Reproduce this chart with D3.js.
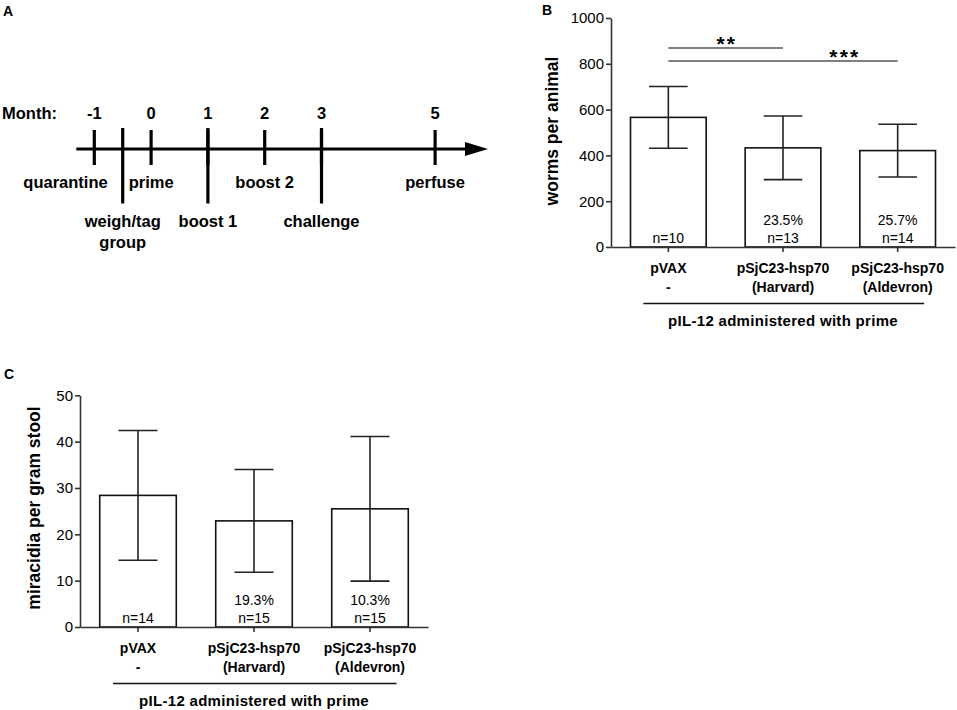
<!DOCTYPE html>
<html><head><meta charset="utf-8">
<script src="https://cdn.jsdelivr.net/npm/d3@7"></script>
<style>
body{margin:0;background:#fff}
svg{display:block}
text{font-family:"Liberation Sans",Arial,Helvetica,sans-serif;fill:#000}
</style>
</head><body>
<svg id="chart" width="957" height="710"></svg>
<script>
// ---------- Panel A: timeline ----------
const monthTicks = [-1, 0, 1, 2, 3, 5];
const eventLabels = [["quarantine"], ["weigh/tag", "group"], ["prime"], ["boost 1"], ["boost 2"], ["challenge"], ["perfuse"]];
const eventMonths = [-1, -0.5, 0, 1, 2, 3, 5];
const eventRows = [0, 1, 0, 1, 0, 1, 0];

// ---------- Panel B: worms per animal ----------
const groupLine1 = ["pVAX", "pSjC23-hsp70", "pSjC23-hsp70"];
const groupLine2 = ["-", "(Harvard)", "(Aldevron)"];
const wormMean = [566, 433, 421];
const wormSD = [135, 139, 115];
const wormN = ["n=10", "n=13", "n=14"];
const wormReduction = ["", "23.5%", "25.7%"];
const wormTicks = [0, 200, 400, 600, 800, 1000];
const sigFrom = [0, 0];
const sigTo = [1, 2];
const sigLabels = ["**", "***"];

// ---------- Panel C: miracidia per gram stool ----------
const miraMean = [28.4, 22.9, 25.5];
const miraSD = [14.0, 11.1, 15.6];
const miraN = ["n=14", "n=15", "n=15"];
const miraReduction = ["", "19.3%", "10.3%"];
const miraTicks = [0, 10, 20, 30, 40, 50];

const groupTitle = "pIL-12 administered with prime";

const svg = d3.select("#chart");

// ===== Panel A =====
(function () {
  const g = svg.append("g");
  g.append("text").attr("x", 3).attr("y", 16).attr("font-size", 14).attr("font-weight", "bold").text("A");
  const x = d3.scaleLinear().domain([-1, 5]).range([94.3, 435.1]);
  const axisY = 149;
  const lw = 3.2;
  g.append("line").attr("x1", x(-1) - 18).attr("x2", 468).attr("y1", axisY).attr("y2", axisY)
    .attr("stroke", "#000").attr("stroke-width", lw);
  g.append("path").attr("d", `M465,${axisY - 7}L488,${axisY}L465,${axisY + 7}Z`).attr("fill", "#000");
  g.selectAll("line.mt").data(monthTicks).join("line").attr("class", "mt")
    .attr("x1", d => x(d)).attr("x2", d => x(d)).attr("y1", 130).attr("y2", 165)
    .attr("stroke", "#000").attr("stroke-width", lw);
  const longIdx = eventMonths.map((m, i) => i).filter(i => eventRows[i] === 1);
  g.selectAll("line.et").data(longIdx).join("line").attr("class", "et")
    .attr("x1", i => x(eventMonths[i])).attr("x2", i => x(eventMonths[i])).attr("y1", 128).attr("y2", 203.5)
    .attr("stroke", "#000").attr("stroke-width", lw);
  const fs = 16.5;
  g.append("text").attr("x", 2).attr("y", 119).attr("font-size", fs).attr("font-weight", "bold").text("Month:");
  g.selectAll("text.mn").data(monthTicks).join("text").attr("class", "mn")
    .attr("x", d => x(d)).attr("y", 119).attr("text-anchor", "middle")
    .attr("font-size", fs).attr("font-weight", "bold").text(d => d);
  eventLabels.forEach((lines, i) => {
    const row = eventRows[i];
    let tx = x(eventMonths[i]);
    let anchor = "middle";
    if (i === 0) { tx = x(eventMonths[1]) - 15; anchor = "end"; }
    const t = g.append("text").attr("text-anchor", anchor).attr("font-size", fs).attr("font-weight", "bold");
    lines.forEach((s, k) => {
      t.append("tspan").attr("x", tx).attr("y", (row === 0 ? 188.3 : 226.7) + k * 21.3).text(s);
    });
  });
})();

// ===== bar panels =====
function barPanel(o) {
  const g = svg.append("g");
  g.append("text").attr("x", o.letterX).attr("y", o.letterY).attr("font-size", 14).attr("font-weight", "bold").text(o.letter);
  const x = d3.scaleBand().domain(d3.range(o.means.length)).range([o.left, o.right]).paddingInner(0.34).paddingOuter(0.17);
  const y = d3.scaleLinear().domain([0, o.ticks[o.ticks.length - 1]]).range([o.bottom, o.top]);
  const bw = x.bandwidth();
  const cx = i => x(i) + bw / 2;
  g.selectAll("rect").data(o.means).join("rect")
    .attr("x", (d, i) => x(i)).attr("width", bw)
    .attr("y", d => y(d)).attr("height", d => o.bottom - y(d))
    .attr("fill", "#fff").attr("stroke", "#111").attr("stroke-width", 1.6);
  const cap = bw * 0.51;
  o.means.forEach((m, i) => {
    const hi = y(m + o.sds[i]), lo = y(m - o.sds[i]);
    const c = cx(i);
    g.append("line").attr("x1", c).attr("x2", c).attr("y1", hi).attr("y2", lo).attr("stroke", "#222").attr("stroke-width", 1.6);
    g.append("line").attr("x1", c - cap / 2).attr("x2", c + cap / 2).attr("y1", hi).attr("y2", hi).attr("stroke", "#222").attr("stroke-width", 1.6);
    g.append("line").attr("x1", c - cap / 2).attr("x2", c + cap / 2).attr("y1", lo).attr("y2", lo).attr("stroke", "#222").attr("stroke-width", 1.6);
  });
  const ya = g.append("g").attr("transform", `translate(${o.left},0)`)
    .call(d3.axisLeft(y).tickValues(o.ticks).tickSize(5).tickSizeOuter(0).tickPadding(2).tickFormat(d3.format("d")));
  ya.selectAll("path,line").attr("stroke", "#333").attr("stroke-width", 1.6);
  ya.selectAll("text").attr("font-size", 15).attr("font-family", '"Liberation Sans",Arial,sans-serif').attr("fill", "#000");
  const xa = g.append("g").attr("transform", `translate(0,${o.bottom})`)
    .call(d3.axisBottom(x).tickSize(5).tickSizeOuter(0).tickFormat(""));
  xa.selectAll("path,line").attr("stroke", "#333").attr("stroke-width", 1.6);
  g.selectAll("text.n").data(o.n).join("text").attr("class", "n")
    .attr("x", (d, i) => cx(i)).attr("y", o.bottom - 4.3).attr("text-anchor", "middle").attr("font-size", 14).text(d => d);
  g.selectAll("text.r").data(o.red).join("text").attr("class", "r")
    .attr("x", (d, i) => cx(i)).attr("y", o.bottom - 22).attr("text-anchor", "middle").attr("font-size", 14).text(d => d);
  const cat = g.selectAll("text.c").data(groupLine1).join("text").attr("class", "c")
    .attr("text-anchor", "middle").attr("font-size", 14).attr("font-weight", "bold");
  cat.append("tspan").attr("x", (d, i) => cx(i)).attr("y", o.bottom + 26).text(d => d);
  cat.append("tspan").attr("x", (d, i) => cx(i)).attr("y", o.bottom + 44.8).text((d, i) => groupLine2[i]);
  const n = o.means.length;
  g.append("line").attr("x1", cx(0) - 25).attr("x2", cx(n - 1) + 26.5)
    .attr("y1", o.bottom + 56.5).attr("y2", o.bottom + 56.5).attr("stroke", "#111").attr("stroke-width", 1.6);
  g.append("text").attr("x", (cx(0) + cx(n - 1)) / 2).attr("y", o.bottom + 79)
    .attr("text-anchor", "middle").attr("font-size", 15).attr("font-weight", "bold").attr("letter-spacing", 0.3).text(groupTitle);
  g.append("text").attr("transform", `translate(${o.ylabX},${o.ylabY}) rotate(-90)`)
    .attr("text-anchor", "middle").attr("font-size", 17.5).attr("font-weight", "bold").text(o.ylabel);
  return { g, x, y, cx };
}

const B = barPanel({
  letter: "B", letterX: 542, letterY: 15,
  left: 611, right: 955, top: 18, bottom: 247,
  means: wormMean, sds: wormSD, n: wormN, red: wormReduction, ticks: wormTicks,
  ylabel: "worms per animal", ylabX: 558, ylabY: 131
});
sigLabels.forEach((lab, k) => {
  const yy = k === 0 ? 48 : 61;
  const x1 = B.cx(sigFrom[k]), x2 = B.cx(sigTo[k]);
  B.g.append("line").attr("x1", x1).attr("x2", x2).attr("y1", yy).attr("y2", yy).attr("stroke", "#555").attr("stroke-width", 1.5);
  const tx = k === 0 ? (x1 + x2) / 2 : x2 - 54;
  B.g.append("text").attr("x", tx + 1.2).attr("y", yy + (k === 0 ? 2.5 : 3))
    .attr("text-anchor", "middle").attr("letter-spacing", 2.2)
    .attr("font-size", 21).attr("font-weight", "bold").text(lab);
});

barPanel({
  letter: "C", letterX: 4, letterY: 379,
  left: 80, right: 428, top: 395.3, bottom: 627,
  means: miraMean, sds: miraSD, n: miraN, red: miraReduction, ticks: miraTicks,
  ylabel: "miracidia per gram stool", ylabX: 40, ylabY: 508
});
</script>
</body></html>
